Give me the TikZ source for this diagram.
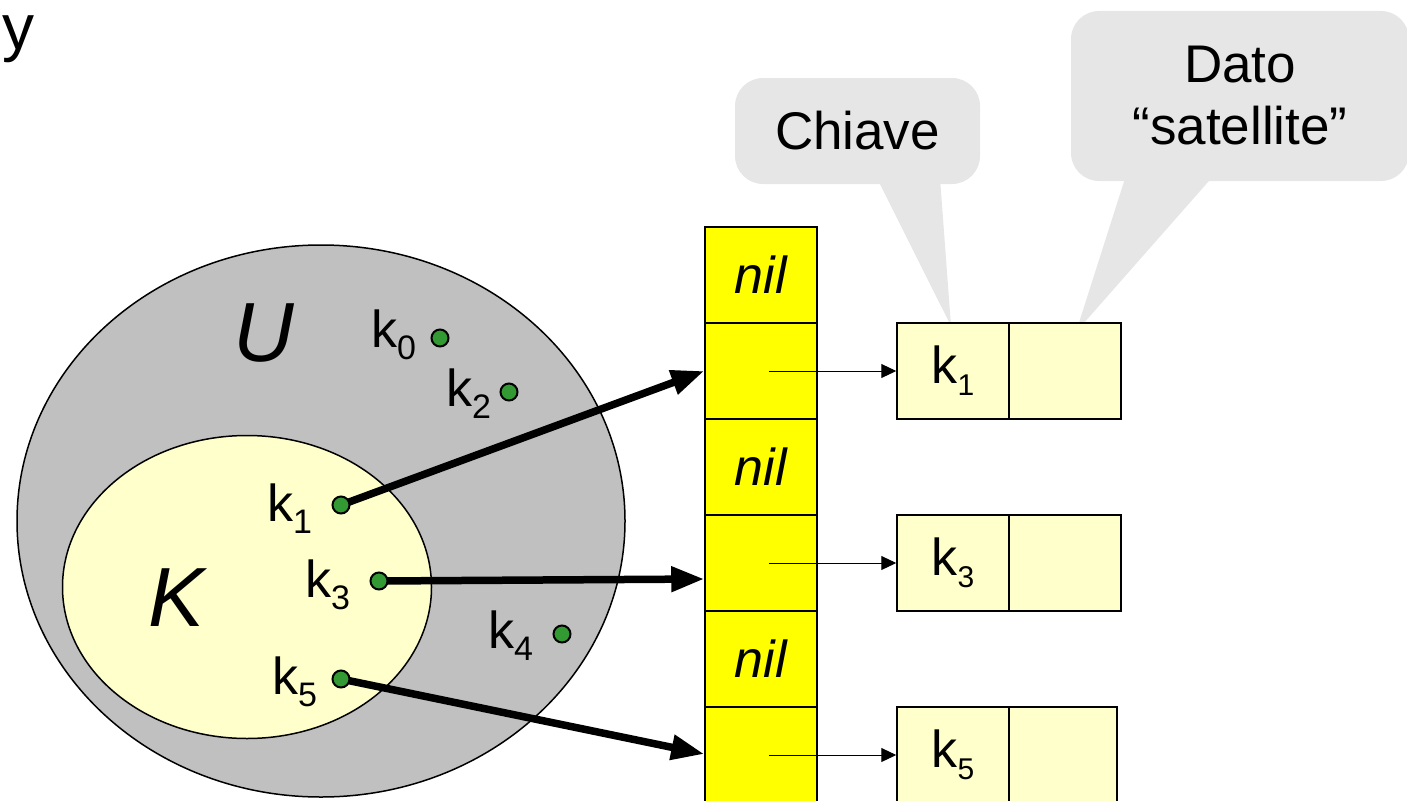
\documentclass[tikz,border=0pt]{standalone}
\usepackage{fontspec}
\setmainfont{Liberation Sans}
\usetikzlibrary{arrows.meta,shapes.geometric,calc}

\definecolor{ugray}{RGB}{192,192,192}
\definecolor{kyellow}{RGB}{255,255,204}
\definecolor{tyellow}{RGB}{255,255,0}
\definecolor{dotgreen}{RGB}{51,153,51}
\definecolor{callgray}{RGB}{230,230,230}

\newcommand\fsz[1]{\fontsize{#1}{#1}\selectfont}
% key name with a lowered index: \kk{<index size>}{<index>}
\newcommand\kk[2]{k\raisebox{-12pt}{\fsz{#1}#2}}

\begin{document}
\begin{tikzpicture}[x=1pt,y=-1pt,
  setshape/.style={draw=black,ellipse,inner sep=0pt,line width=1.5pt},
  bigletter/.style={font=\fsz{84}\itshape,inner sep=0pt,anchor=base},
  keylabel/.style={font=\fsz{52},inner sep=0pt,anchor=base west},
  keydot/.style={circle,draw=black,fill=dotgreen,minimum size=17pt,inner sep=0pt,line width=2pt},
  hashcell/.style={draw=black,fill=tyellow,minimum width=112pt,minimum height=96pt,inner sep=0pt,line width=1.5pt,font=\fsz{52}\itshape},
  listcell/.style={draw=black,fill=kyellow,minimum width=112pt,minimum height=96pt,inner sep=0pt,line width=1.5pt,font=\fsz{52}},
  bigarrow/.style={line width=7.5pt,-{Triangle[length=33pt,width=24pt]}},
  ptrarrow/.style={line width=1pt,-{Triangle[length=15pt,width=14pt]}},
  balloon/.style={fill=callgray,rounded corners=28pt,inner sep=0pt,font=\fsz{53},align=center}
]
\useasboundingbox (0,0) rectangle (1407,800);
\clip (0,0) rectangle (1407,800);

% variable name in the corner
\node[font=\fsz{64},inner sep=0pt,anchor=base west] (yvar) at (2,49) {y};

% universe U and set of used keys K
\node[setshape,fill=ugray,minimum width=608pt,minimum height=552pt] (U) at (321,521) {};
\node[setshape,fill=kyellow,minimum width=369pt,minimum height=303pt] (K) at (247,587) {};
\node[bigletter] (lU) at (264,361) {U};
\node[bigletter] (lK) at (177,626) {K};

% key positions
\coordinate (p0) at (440,338);
\coordinate (p2) at (509,392);
\coordinate (p1) at (341,505);
\coordinate (p3) at (379,581);
\coordinate (p4) at (562,634);
\coordinate (p5) at (341,679);

% key labels
\node[keylabel] (l0) at (371,347) {\kk{34}{0}};
\node[keylabel] (l2) at (446,406) {\kk{34}{2}};
\node[keylabel] (l1) at (267,521) {\kk{34}{1}};
\node[keylabel] (l3) at (305,597) {\kk{34}{3}};
\node[keylabel] (l4) at (488,648) {\kk{34}{4}};
\node[keylabel] (l5) at (272,694) {\kk{34}{5}};

% hash table slots
\node[hashcell] (t1) at (761,275) {nil};
\node[hashcell] (t2) at (761,371) {};
\node[hashcell] (t3) at (761,467) {nil};
\node[hashcell] (t4) at (761,563) {};
\node[hashcell] (t5) at (761,659) {nil};
\node[hashcell] (t6) at (761,755) {};

% where the hashing arrows land
\coordinate (e1) at (t2.west);
\coordinate (e3) at ($(t4.west)+(0,16)$);
\coordinate (e5) at ($(t6.west)+(0,-1)$);

% hashing arrows
\draw[bigarrow] (p1) -- (e1);
\draw[bigarrow] (p3) -- (e3);
\draw[bigarrow] (p5) -- (e5);

% key dots
\foreach \i in {0,...,5} { \node[keydot] (d\i) at (p\i) {}; }

% callouts
\node[balloon,minimum width=245pt,minimum height=106pt] (c1) at (857.5,131) {Chiave};
\fill[callgray] ($(c1.south)+(19.5,-6)$) -- ($(c1.south)+(82.5,-6)$) -- (951,326) -- cycle;
\node[balloon,minimum width=338pt,minimum height=170pt,font=\fontsize{53}{62}\selectfont] (c2) at (1240,96) {Dato\\“satellite”};
\fill[callgray] ($(c2.south)+(-114,-6)$) -- ($(c2.south)+(-26,-6)$) -- (1076,332) -- cycle;

% list elements: key and satellite data
\node[listcell] (b1k) at (953,371) {\kk{30}{1}};
\node[listcell] (b1d) at (1065,371) {};
\node[listcell] (b3k) at (953,563) {\kk{30}{3}};
\node[listcell] (b3d) at (1065,563) {};
\node[listcell] (b5k) at (953,755) {\kk{30}{5}};
\node[listcell,minimum width=108pt] (b5d) at (1063,755) {};

% chain pointers
\coordinate (s1) at ($(t2.center)+(8,0)$);
\coordinate (s3) at ($(t4.center)+(8,0)$);
\coordinate (s5) at ($(t6.center)+(8,0)$);
\draw[ptrarrow] (s1) -- (b1k.west);
\draw[ptrarrow] (s3) -- (b3k.west);
\draw[ptrarrow] (s5) -- (b5k.west);
\end{tikzpicture}
\end{document}
